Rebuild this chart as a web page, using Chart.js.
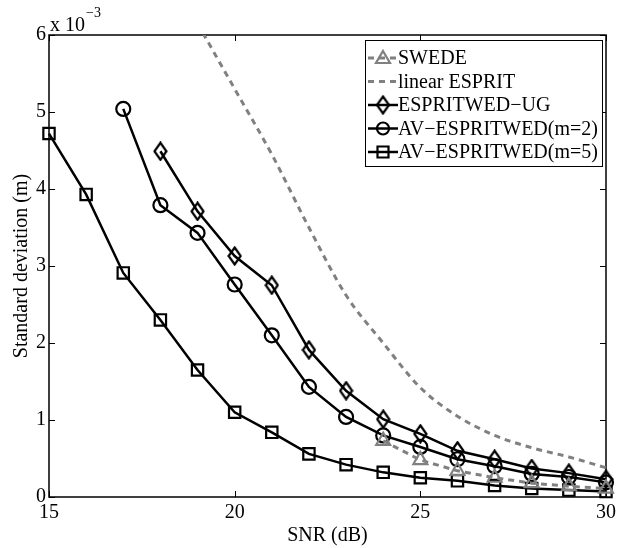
<!DOCTYPE html>
<html>
<head>
<meta charset="utf-8">
<script src="https://cdn.jsdelivr.net/npm/chart.js@4.4.0/dist/chart.umd.min.js"></script>
<style>
  html, body { margin: 0; padding: 0; background: #fff; }
  #wrap { width: 627px; height: 548px; }
</style>
</head>
<body>
<div id="wrap"><canvas id="chart" width="627" height="548"></canvas></div>
<script>
// values in units of 1e-3 m
const snr = [15, 16, 17, 18, 19, 20, 21, 22, 23, 24, 25, 26, 27, 28, 29, 30];
const swede = [null, null, null, null, null, null, null, null, null, 0.73, 0.48, 0.34, 0.25, 0.18, 0.14, 0.11];
const linearEsprit = [null, null, null, null, 6.15, 5.3, 4.45, 3.5, 2.62, 2.0, 1.42, 1.05, 0.8, 0.64, 0.52, 0.38];
const espritwedUG = [null, null, null, 4.49, 3.71, 3.13, 2.75, 1.91, 1.38, 1.01, 0.82, 0.6, 0.49, 0.37, 0.31, 0.23];
const avM2 = [null, null, 5.04, 3.79, 3.43, 2.76, 2.1, 1.43, 1.04, 0.8, 0.65, 0.49, 0.4, 0.3, 0.26, 0.19];
const avM5 = [4.72, 3.93, 2.91, 2.3, 1.65, 1.1, 0.84, 0.56, 0.42, 0.32, 0.25, 0.21, 0.15, 0.11, 0.09, 0.07];
const xTicks = [15, 20, 25, 30];
const yTicks = [0, 1, 2, 3, 4, 5, 6];

const FONT = "'Liberation Serif', 'Times New Roman', serif";
const GRAY = "#808080";

// tall diamond marker like matlab's 'd'
function diamondCanvas() {
  const c = document.createElement("canvas");
  c.width = 15; c.height = 20;
  const g = c.getContext("2d");
  g.strokeStyle = "#000"; g.lineWidth = 2.2;
  g.beginPath();
  g.moveTo(7.5, 1.5); g.lineTo(13.5, 10); g.lineTo(7.5, 18.5); g.lineTo(1.5, 10);
  g.closePath(); g.stroke();
  return c;
}
const diamond = diamondCanvas();

const pts = (arr) => snr.map((s, i) => ({ x: s, y: arr[i] }));

const datasets = [
  { label: "SWEDE", data: pts(swede), borderColor: GRAY, borderWidth: 3, borderDash: [6, 5],
    pointStyle: "triangle", pointRadius: 8, pointBorderWidth: 2.2, pointBorderColor: GRAY,
    pointBackgroundColor: "rgba(0,0,0,0)", clip: false, mk: "triangle" },
  { label: "linear ESPRIT", data: pts(linearEsprit), borderColor: GRAY, borderWidth: 3, borderDash: [6, 5],
    pointRadius: 0, cubicInterpolationMode: "monotone", clip: 0, mk: null },
  { label: "ESPRITWED\u2212UG", data: pts(espritwedUG), borderColor: "#000", borderWidth: 2.5,
    pointStyle: diamond, pointRadius: 8, clip: false, mk: "diamond" },
  { label: "AV\u2212ESPRITWED(m=2)", data: pts(avM2), borderColor: "#000", borderWidth: 2.5,
    pointStyle: "circle", pointRadius: 7, pointBorderWidth: 2.2, pointBorderColor: "#000",
    pointBackgroundColor: "rgba(0,0,0,0)", clip: false, mk: "circle" },
  { label: "AV\u2212ESPRITWED(m=5)", data: pts(avM5), borderColor: "#000", borderWidth: 2.5,
    pointStyle: "rect", pointRadius: 8, pointBorderWidth: 2.2, pointBorderColor: "#000",
    pointBackgroundColor: "rgba(0,0,0,0)", clip: false, mk: "rect" },
];

function line(ctx, x1, y1, x2, y2) {
  ctx.beginPath(); ctx.moveTo(x1, y1); ctx.lineTo(x2, y2); ctx.stroke();
}

// matlab style box with inward ticks
const boxPlugin = {
  id: "box",
  beforeDatasetsDraw(chart) {
    const { ctx, chartArea: a, scales: { x, y } } = chart;
    ctx.save();
    ctx.strokeStyle = "#000"; ctx.lineWidth = 1.5;
    ctx.strokeRect(a.left, a.top, a.right - a.left, a.bottom - a.top);
    ctx.lineWidth = 1;
    for (const v of xTicks) {
      const px = Math.round(x.getPixelForValue(v)) + 0.5;
      line(ctx, px, a.bottom, px, a.bottom - 6);
      line(ctx, px, a.top, px, a.top + 6);
    }
    for (const v of yTicks) {
      const py = Math.round(y.getPixelForValue(v)) + 0.5;
      line(ctx, a.left, py, a.left + 6, py);
      line(ctx, a.right, py, a.right - 6, py);
    }
    ctx.restore();
  },
  afterDraw(chart) {
    const { ctx, chartArea: a } = chart;
    ctx.save();
    ctx.fillStyle = "#000";
    ctx.textBaseline = "alphabetic";
    ctx.font = "20px " + FONT;
    ctx.fillText("x 10", a.left + 1, a.top - 4);
    const w = ctx.measureText("x 10").width;
    ctx.font = "14px " + FONT;
    ctx.fillText("\u22123", a.left + 2 + w, a.top - 18);
    ctx.restore();
  },
};

function drawMarker(ctx, mk, x, y, color) {
  ctx.strokeStyle = color; ctx.lineWidth = 2.2; ctx.setLineDash([]);
  ctx.beginPath();
  if (mk === "triangle") {
    ctx.moveTo(x, y - 7); ctx.lineTo(x + 7, y + 5); ctx.lineTo(x - 7, y + 5); ctx.closePath();
    ctx.stroke();
  } else if (mk === "circle") {
    ctx.arc(x, y, 6, 0, Math.PI * 2); ctx.stroke();
  } else if (mk === "rect") {
    ctx.rect(x - 5.5, y - 5.5, 11, 11); ctx.stroke();
  } else if (mk === "diamond") {
    ctx.drawImage(diamond, x - diamond.width / 2, y - diamond.height / 2);
  }
}

const legendPlugin = {
  id: "boxLegend",
  afterDatasetsDraw(chart) {
    const { ctx } = chart;
    const left = 365, top = 40, right = 602, bottom = 166;
    ctx.save();
    ctx.fillStyle = "#fff";
    ctx.fillRect(left, top, right - left, bottom - top);
    ctx.strokeStyle = "#000"; ctx.lineWidth = 1;
    ctx.strokeRect(left + 0.5, top + 0.5, right - left, bottom - top);
    ctx.font = "20px " + FONT;
    ctx.textBaseline = "middle";
    datasets.forEach((d, i) => {
      const cy = 58 + i * 23.5;
      ctx.strokeStyle = d.borderColor; ctx.lineWidth = d.borderWidth;
      ctx.setLineDash(d.borderDash || []);
      line(ctx, 368, cy, 398, cy);
      if (d.mk) drawMarker(ctx, d.mk, 383, cy, d.borderColor);
      ctx.setLineDash([]);
      ctx.fillStyle = "#000";
      ctx.fillText(d.label, 398, cy + 1);
    });
    ctx.restore();
  },
};

new Chart(document.getElementById("chart"), {
  type: "line",
  data: { datasets },
  plugins: [boxPlugin, legendPlugin],
  options: {
    responsive: false,
    animation: false,
    devicePixelRatio: 1,
    layout: { padding: { top: 35, right: 21, left: 0, bottom: 0 } },
    plugins: { legend: { display: false }, tooltip: { enabled: false } },
    elements: { line: { tension: 0 } },
    scales: {
      x: {
        type: "linear", min: 15, max: 30,
        afterBuildTicks: (s) => { s.ticks = xTicks.map((v) => ({ value: v })); },
        afterFit: (s) => { s.height = 51; },
        grid: { display: false, drawTicks: false },
        border: { display: false },
        ticks: { color: "#000", font: { family: FONT, size: 20 }, padding: 4, maxRotation: 0 },
        title: { display: true, text: "SNR (dB)", color: "#000", font: { family: FONT, size: 20 }, padding: { top: 0, bottom: 0 } },
      },
      y: {
        type: "linear", min: 0, max: 6,
        afterBuildTicks: (s) => { s.ticks = yTicks.map((v) => ({ value: v })); },
        afterFit: (s) => { s.width = 49; },
        grid: { display: false, drawTicks: false },
        border: { display: false },
        ticks: { color: "#000", font: { family: FONT, size: 20 }, padding: 3 },
        title: { display: true, text: "Standard deviation (m)", color: "#000", font: { family: FONT, size: 20 }, padding: { top: 10, bottom: 0 } },
      },
    },
  },
});
</script>
</body>
</html>
